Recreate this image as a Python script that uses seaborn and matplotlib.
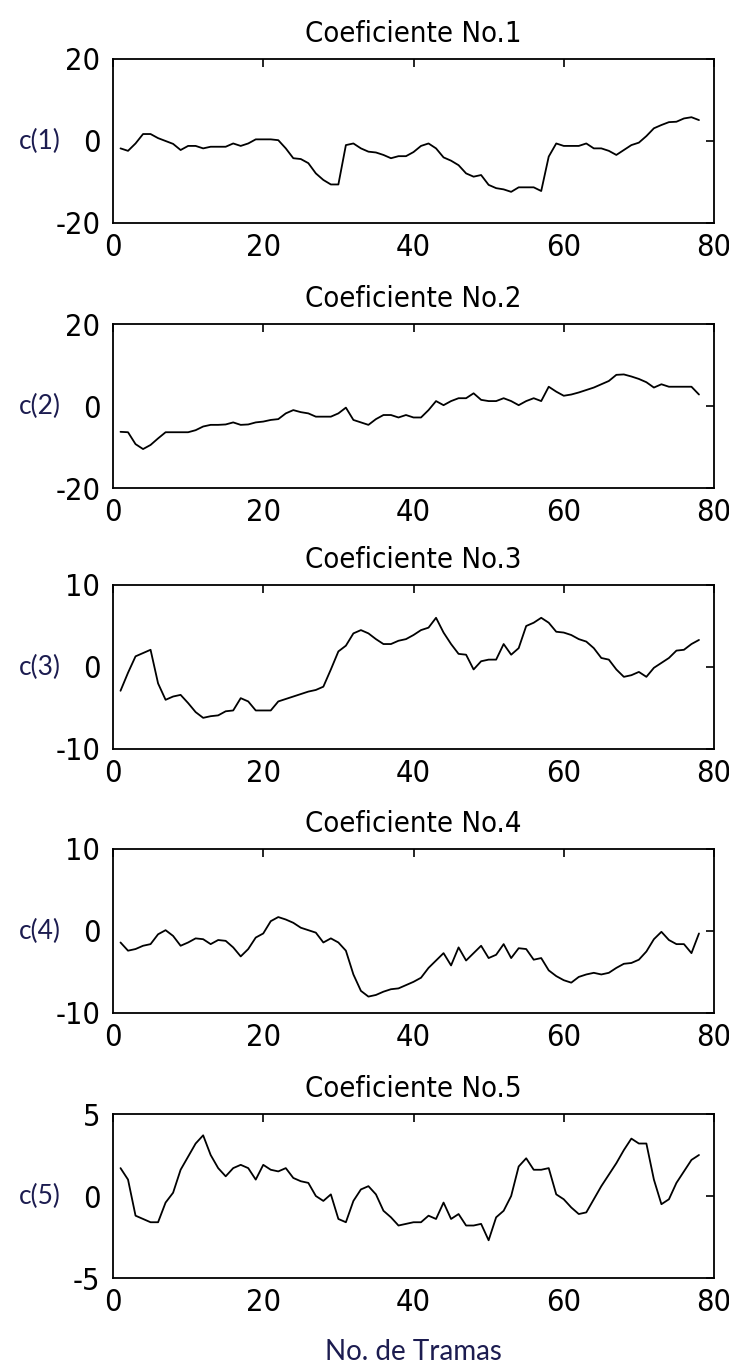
import numpy as np
import pandas as pd
import matplotlib
matplotlib.use("Agg")
import matplotlib.pyplot as plt
from matplotlib import font_manager
import seaborn as sns

frames = list(range(1, 79))

c1 = [-1.8, -2.4, -0.6, 1.7, 1.7, 0.7, 0.0, -0.7, -2.2, -1.2,
      -1.2, -1.8, -1.4, -1.4, -1.4, -0.6, -1.2, -0.6, 0.4, 0.4,
      0.4, 0.2, -1.8, -4.2, -4.4, -5.4, -7.9, -9.5, -10.6, -10.6,
      -1.0, -0.6, -1.8, -2.6, -2.8, -3.4, -4.2, -3.7, -3.7, -2.7,
      -1.2, -0.6, -1.8, -4.0, -4.8, -5.9, -7.9, -8.7, -8.3, -10.7,
      -11.5, -11.8, -12.4, -11.3, -11.3, -11.3, -12.2, -3.8, -0.6, -1.2,
      -1.2, -1.2, -0.6, -1.8, -1.8, -2.4, -3.4, -2.2, -1.0, -0.4,
      1.2, 3.1, 3.9, 4.6, 4.7, 5.5, 5.8, 5.1]

c2 = [-6.3, -6.4, -9.3, -10.5, -9.5, -7.9, -6.4, -6.4, -6.4, -6.4,
      -5.9, -5.0, -4.6, -4.6, -4.5, -4.0, -4.6, -4.5, -4.0, -3.8,
      -3.4, -3.2, -1.8, -1.0, -1.5, -1.8, -2.6, -2.6, -2.6, -1.8,
      -0.4, -3.4, -4.0, -4.6, -3.2, -2.2, -2.2, -2.8, -2.2, -2.8,
      -2.8, -1.0, 1.2, 0.2, 1.2, 1.9, 1.9, 3.1, 1.5, 1.2,
      1.2, 1.9, 1.2, 0.2, 1.2, 1.9, 1.2, 4.7, 3.5, 2.5,
      2.8, 3.3, 3.9, 4.5, 5.3, 6.1, 7.6, 7.7, 7.2, 6.6,
      5.8, 4.5, 5.3, 4.7, 4.7, 4.7, 4.7, 2.8]

c3 = [-2.9, -0.7, 1.3, 1.7, 2.1, -2.0, -4.0, -3.6, -3.4, -4.4,
      -5.5, -6.2, -6.0, -5.9, -5.4, -5.3, -3.8, -4.2, -5.3, -5.3,
      -5.3, -4.2, -3.9, -3.6, -3.3, -3.0, -2.8, -2.4, -0.3, 1.9,
      2.6, 4.1, 4.5, 4.1, 3.4, 2.8, 2.8, 3.2, 3.4, 3.9,
      4.5, 4.8, 6.0, 4.2, 2.8, 1.6, 1.5, -0.3, 0.7, 0.9,
      0.9, 2.8, 1.5, 2.3, 5.0, 5.4, 6.0, 5.4, 4.3, 4.2,
      3.9, 3.4, 3.1, 2.3, 1.1, 0.9, -0.3, -1.2, -1.0, -0.6,
      -1.2, -0.1, 0.5, 1.1, 2.0, 2.1, 2.8, 3.3]

c4 = [-1.4, -2.4, -2.2, -1.8, -1.6, -0.4, 0.1, -0.6, -1.8, -1.4,
      -0.9, -1.0, -1.6, -1.1, -1.2, -2.0, -3.1, -2.2, -0.8, -0.3,
      1.2, 1.7, 1.4, 1.0, 0.4, 0.1, -0.2, -1.4, -0.9, -1.4,
      -2.4, -5.3, -7.3, -8.0, -7.8, -7.4, -7.1, -7.0, -6.6, -6.2,
      -5.7, -4.5, -3.6, -2.7, -4.2, -2.0, -3.6, -2.7, -1.8, -3.3,
      -2.9, -1.6, -3.3, -2.1, -2.2, -3.5, -3.3, -4.8, -5.5, -6.0,
      -6.3, -5.6, -5.3, -5.1, -5.3, -5.1, -4.5, -4.0, -3.9, -3.5,
      -2.5, -1.0, -0.1, -1.1, -1.6, -1.6, -2.7, -0.3]

c5 = [1.7, 1.0, -1.2, -1.4, -1.6, -1.6, -0.4, 0.2, 1.6, 2.4,
      3.2, 3.7, 2.5, 1.7, 1.2, 1.7, 1.9, 1.7, 1.0, 1.9,
      1.6, 1.5, 1.7, 1.1, 0.9, 0.8, 0.0, -0.3, 0.1, -1.4,
      -1.6, -0.3, 0.4, 0.6, 0.1, -0.9, -1.3, -1.8, -1.7, -1.6,
      -1.6, -1.2, -1.4, -0.4, -1.4, -1.1, -1.8, -1.8, -1.7, -2.7,
      -1.3, -0.9, 0.0, 1.8, 2.3, 1.6, 1.6, 1.7, 0.1, -0.2,
      -0.7, -1.1, -1.0, -0.2, 0.6, 1.3, 2.0, 2.8, 3.5, 3.2,
      3.2, 1.0, -0.5, -0.2, 0.8, 1.5, 2.2, 2.5]

series = [c1, c2, c3, c4, c5]
titles = ["Coeficiente No.1", "Coeficiente No.2", "Coeficiente No.3",
          "Coeficiente No.4", "Coeficiente No.5"]
ylabels = ["c(1)", "c(2)", "c(3)", "c(4)", "c(5)"]
ylims = [(-20, 20), (-20, 20), (-10, 10), (-10, 10), (-5, 5)]
xticks = [0, 20, 40, 60, 80]
xlabel = "No. de Tramas"

sns.set_theme(style="white")
plt.rcParams['font.family'] = ['DejaVu Sans']

tick_fp = font_manager.FontProperties(family="DejaVu Sans", stretch="condensed", size=22)
title_fp = font_manager.FontProperties(family="DejaVu Sans", stretch="condensed", size=21)
lab_fp = font_manager.FontProperties(family="Lato", size=19)
xlab_fp = font_manager.FontProperties(family="Lato", size=20)

W, H = 729, 1366
fig = plt.figure(figsize=(W / 100, H / 100), dpi=100)

bottoms_px = [223, 488, 749, 1013, 1278]
ax_h_px = 164
left_px, right_px = 113, 714
ylab_center_px = 40

label_color = "#1c1c50"

for k in range(5):
    b = bottoms_px[k]
    ax = fig.add_axes([left_px / W, 1 - b / H, (right_px - left_px) / W, ax_h_px / H])
    df = pd.DataFrame({"frame": frames, "value": series[k]})
    sns.lineplot(data=df, x="frame", y="value", ax=ax, color="black", linewidth=1.3)
    ax.set_xlim(0, 80)
    ax.set_ylim(*ylims[k])
    ax.set_xticks(xticks)
    ax.set_xticklabels([str(t) for t in xticks])
    lo, hi = ylims[k]
    ax.set_yticks([lo, 0, hi])
    ax.set_yticklabels([f"{lo}", "0", f"{hi}"])
    ax.tick_params(axis="both", direction="in", length=6, width=1.2,
                   top=True, right=True, colors="black")
    ax.tick_params(axis="x", pad=7)
    ax.tick_params(axis="y", pad=9)
    for lab in ax.get_xticklabels() + ax.get_yticklabels():
        lab.set_fontproperties(tick_fp)
    for sp in ax.spines.values():
        sp.set_visible(True)
        sp.set_color("black")
        sp.set_linewidth(1.3)
    ax.set_title(titles[k], fontproperties=title_fp, pad=12, color="black")
    ax.set_xlabel("")
    ax.set_ylabel(ylabels[k], rotation=0, fontproperties=lab_fp, color=label_color,
                  va="center", ha="center")
    ax.yaxis.set_label_coords((ylab_center_px - left_px) / (right_px - left_px), 0.5)
    if k == 4:
        ax.set_xlabel(xlabel, fontproperties=xlab_fp, color=label_color, labelpad=16)

fig.savefig("out.png", dpi=100)
